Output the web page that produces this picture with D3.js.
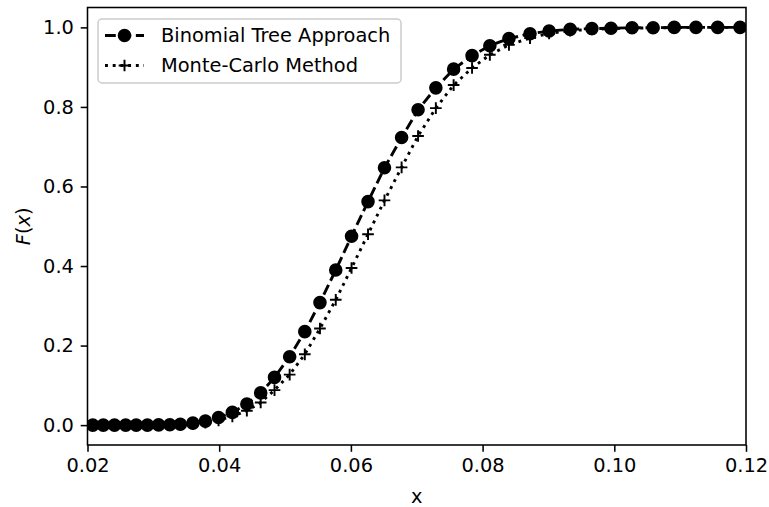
<!DOCTYPE html>
<html>
<head>
<meta charset="utf-8">
<script src="https://cdn.jsdelivr.net/npm/d3@7"></script>
<style>
  body { margin: 0; background: #fff; }
  text { font-family: "DejaVu Sans", sans-serif; fill: #000; }
</style>
</head>
<body>
<svg id="chart"></svg>
<script>
// x grid shared by both methods
const xValues = [0.0208, 0.0224, 0.0241, 0.0258, 0.0274, 0.0291, 0.0308, 0.0325, 0.0341, 0.0360,
  0.0379, 0.0399, 0.0420, 0.0442, 0.0463, 0.0484, 0.0507, 0.0530, 0.0553, 0.0577,
  0.0601, 0.0626, 0.0651, 0.0677, 0.0702, 0.0729, 0.0756, 0.0784, 0.0811, 0.0840,
  0.0872, 0.0901, 0.0933, 0.0966, 0.0995, 0.1027, 0.1059, 0.1091, 0.1124, 0.1157, 0.1191];

const binomial = [0, 0, 0, 0, 0, 0, 0.0005, 0.001, 0.002, 0.005,
  0.01, 0.019, 0.032, 0.053, 0.081, 0.12, 0.172, 0.235, 0.308, 0.39,
  0.475, 0.562, 0.647, 0.723, 0.793, 0.848, 0.895, 0.929, 0.954, 0.972,
  0.984, 0.991, 0.995, 0.997, 0.998, 0.999, 0.999, 1, 1, 1, 1];

const monteCarlo = [0, 0, 0, 0, 0, 0, 0, 0, 0.001, 0.003,
  0.006, 0.012, 0.022, 0.036, 0.057, 0.088, 0.127, 0.178, 0.243, 0.315,
  0.395, 0.48, 0.565, 0.648, 0.727, 0.797, 0.855, 0.898, 0.931, 0.956,
  0.973, 0.985, 0.992, 0.995, 0.997, 0.998, 0.999, 0.999, 1, 1, 1];

const xTicks = [0.02, 0.04, 0.06, 0.08, 0.10, 0.12];
const yTicks = [0.0, 0.2, 0.4, 0.6, 0.8, 1.0];
const seriesNames = ['Binomial Tree Approach', 'Monte-Carlo Method'];

const width = 769, height = 507;
const margin = {top: 7.5, right: 23, bottom: 62, left: 87.5};
const fs = 19.4;     // 10pt at ~140dpi
const pt = 1.94;     // px per point

const svg = d3.select('#chart').attr('width', width).attr('height', height);
const innerW = width - margin.left - margin.right;
const innerH = height - margin.top - margin.bottom;

const xscale = d3.scaleLinear().domain([0.02, 0.12]).range([0, innerW]);
const yscale = d3.scaleLinear().domain([-0.05, 1.05]).range([innerH, 0]);

const chart = svg.append('g')
  .attr('transform', `translate(${margin.left}, ${margin.top})`);

chart.append('clipPath').attr('id', 'clip')
  .append('rect').attr('width', innerW).attr('height', innerH);

const plot = chart.append('g').attr('clip-path', 'url(#clip)');

const line = d3.line()
  .x(d => xscale(d[0]))
  .y(d => yscale(d[1]));

const binData = xValues.map((x, i) => [x, binomial[i]]);
const mcData = xValues.map((x, i) => [x, monteCarlo[i]]);

const lw = 1.5 * pt;
const dashed = `${3.7 * lw},${1.6 * lw}`;
const dotted = `${1 * lw},${1.65 * lw}`;
const msize = 6 * pt;

// monte-carlo (dotted, plus markers)
plot.append('path')
  .attr('d', line(mcData))
  .attr('fill', 'none')
  .attr('stroke', '#000')
  .attr('stroke-width', lw)
  .attr('stroke-dasharray', dotted);

function plus(g, cx, cy) {
  const h = msize / 2;
  g.append('path')
    .attr('d', `M${cx - h},${cy}H${cx + h}M${cx},${cy - h}V${cy + h}`)
    .attr('stroke', '#000')
    .attr('stroke-width', pt)
    .attr('fill', 'none');
}

mcData.forEach(d => plus(plot, xscale(d[0]), yscale(d[1])));

// binomial (dashed, circles)
plot.append('path')
  .attr('d', line(binData))
  .attr('fill', 'none')
  .attr('stroke', '#000')
  .attr('stroke-width', lw)
  .attr('stroke-dasharray', dashed);

plot.selectAll('circle.bin')
  .data(binData)
  .join('circle')
  .attr('class', 'bin')
  .attr('cx', d => xscale(d[0]))
  .attr('cy', d => yscale(d[1]))
  .attr('r', msize / 2)
  .attr('fill', '#000')
  .attr('stroke', '#000')
  .attr('stroke-width', pt);

// axes
const tl = 3.5 * pt;
const xaxis = d3.axisBottom(xscale).tickValues(xTicks).tickFormat(d3.format('.2f'))
  .tickSizeInner(tl).tickSizeOuter(0).tickPadding(tl);
const yaxis = d3.axisLeft(yscale).tickValues(yTicks).tickFormat(d3.format('.1f'))
  .tickSizeInner(tl).tickSizeOuter(0).tickPadding(tl);

const xg = chart.append('g').attr('transform', `translate(0, ${innerH})`).call(xaxis);
const yg = chart.append('g').call(yaxis);
[xg, yg].forEach(g => {
  g.select('.domain').remove();
  g.selectAll('line').attr('stroke', '#000').attr('stroke-width', 0.8 * pt);
  g.selectAll('text').attr('font-size', fs).attr('font-family', '"DejaVu Sans", sans-serif').attr('fill', '#000');
});

// frame
chart.append('rect')
  .attr('width', innerW).attr('height', innerH)
  .attr('fill', 'none').attr('stroke', '#000').attr('stroke-width', 0.8 * pt);

// axis labels
svg.append('text')
  .attr('x', margin.left + innerW / 2)
  .attr('y', 503)
  .attr('text-anchor', 'middle')
  .attr('font-size', fs)
  .text('x');

const ylab = svg.append('text')
  .attr('transform', `translate(30, ${margin.top + yscale(0.5)}) rotate(-90)`)
  .attr('text-anchor', 'middle')
  .attr('font-size', fs);
ylab.append('tspan').attr('font-style', 'italic').text('F');
ylab.append('tspan').text('(');
ylab.append('tspan').attr('font-style', 'italic').text('x');
ylab.append('tspan').text(')');

// legend
const lg = svg.append('g');
lg.append('rect')
  .attr('x', 98).attr('y', 19).attr('width', 303).attr('height', 64)
  .attr('rx', 4)
  .attr('fill', '#fff').attr('fill-opacity', 0.8)
  .attr('stroke', '#cccccc').attr('stroke-width', 1.5);

const rows = [35.5, 65.5];
lg.append('path')
  .attr('d', `M105,${rows[0]}H144`)
  .attr('stroke', '#000').attr('stroke-width', lw)
  .attr('stroke-dasharray', dashed);
lg.append('circle')
  .attr('cx', 124.5).attr('cy', rows[0]).attr('r', msize / 2)
  .attr('fill', '#000').attr('stroke', '#000').attr('stroke-width', pt);
lg.append('path')
  .attr('d', `M105,${rows[1]}H144`)
  .attr('stroke', '#000').attr('stroke-width', lw)
  .attr('stroke-dasharray', dotted);
plus(lg, 124.5, rows[1]);

seriesNames.forEach((name, i) => {
  lg.append('text')
    .attr('x', 161)
    .attr('y', rows[i])
    .attr('dy', '0.35em')
    .attr('font-size', fs)
    .text(name);
});
</script>
</body>
</html>
